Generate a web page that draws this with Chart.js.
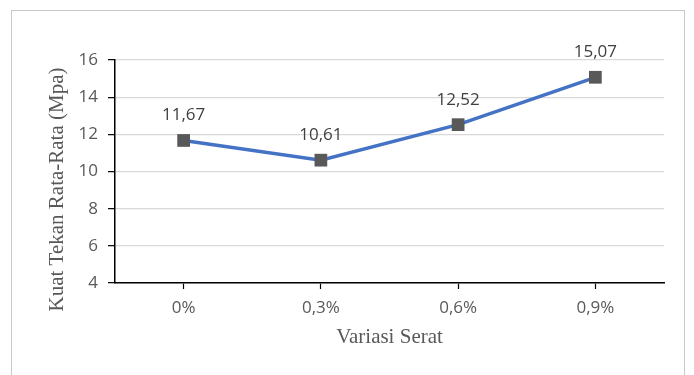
<!DOCTYPE html>
<html>
<head>
<meta charset="utf-8">
<script src="https://cdn.jsdelivr.net/npm/chart.js@4"></script>
<style>
  html, body { margin: 0; padding: 0; background: #fff; }
  #wrap { position: relative; width: 694px; height: 375px; overflow: hidden; }
  #frame { position: absolute; left: 11px; top: 10px; width: 674px; height: 400px; border: 1px solid #c8c8c8; box-sizing: border-box; }
  canvas { position: absolute; left: 0; top: 0; }
</style>
</head>
<body>
<div id="wrap">
  <div id="frame"></div>
  <canvas id="c" width="694" height="375"></canvas>
</div>
<script>
// Compressive strength by fibre content
const categories = ['0%', '0,3%', '0,6%', '0,9%'];
const strength = [11.67, 10.61, 12.52, 15.07];
const yTicks = [4, 6, 8, 10, 12, 14, 16];
const yTitle = 'Kuat Tekan Rata-Rata (Mpa)';
const xTitle = 'Variasi Serat';

const fmt = v => v.toFixed(2).replace('.', ',');

// value labels above each point, plus the rotated y-axis title
const annotations = {
  id: 'annotations',
  afterDatasetsDraw(chart) {
    const ctx = chart.ctx;
    const meta = chart.getDatasetMeta(0);
    ctx.save();
    ctx.font = '17px "Open Sans"';
    ctx.fillStyle = '#404040';
    ctx.textAlign = 'center';
    ctx.textBaseline = 'middle';
    meta.data.forEach((pt, i) => {
      ctx.fillText(fmt(strength[i]), pt.x, pt.y - 25);
    });
    ctx.restore();

    const area = chart.chartArea;
    ctx.save();
    ctx.translate(57, (area.top + area.bottom) / 2 + 18);
    ctx.rotate(-Math.PI / 2);
    ctx.font = '21px "Liberation Serif"';
    ctx.fillStyle = '#595959';
    ctx.textAlign = 'center';
    ctx.textBaseline = 'middle';
    ctx.fillText(yTitle, 0, 0);
    ctx.restore();
  }
};

new Chart(document.getElementById('c'), {
  type: 'line',
  data: {
    labels: categories,
    datasets: [{
      data: strength,
      borderColor: '#4472C4',
      borderWidth: 3.5,
      pointStyle: 'rect',
      pointRadius: 9,
      pointBackgroundColor: '#595959',
      pointBorderColor: '#595959',
      pointBorderWidth: 0,
      tension: 0
    }]
  },
  options: {
    responsive: false,
    animation: false,
    layout: { padding: { left: 43, top: 60, right: 30, bottom: 0 } },
    plugins: { legend: { display: false }, tooltip: { enabled: false } },
    scales: {
      x: {
        offset: true,
        grid: { display: true, drawOnChartArea: false, offset: false, tickLength: 6, tickColor: '#000', tickWidth: 1.2 },
        border: { color: '#000', width: 1.5 },
        ticks: { color: '#595959', font: { family: '"Open Sans"', size: 17 }, padding: 9 },
        title: {
          display: true, text: xTitle, color: '#595959',
          font: { family: '"Liberation Serif"', size: 21 }, padding: { top: 0, bottom: 25 }
        },
        afterFit(s) { s.height = 92; }
      },
      y: {
        min: 4, max: 16,
        afterBuildTicks(s) { s.ticks = yTicks.map(v => ({ value: v })); },
        grid: { color: '#d9d9d9', lineWidth: 1.3, tickLength: 7, tickColor: '#000', tickWidth: 1.2 },
        border: { color: '#000', width: 1.5 },
        ticks: { color: '#595959', font: { family: '"Open Sans"', size: 17 }, padding: 10 },
        title: { display: false },
        afterFit(s) { s.width = 72; }
      }
    }
  },
  plugins: [annotations]
});
</script>
</body>
</html>
